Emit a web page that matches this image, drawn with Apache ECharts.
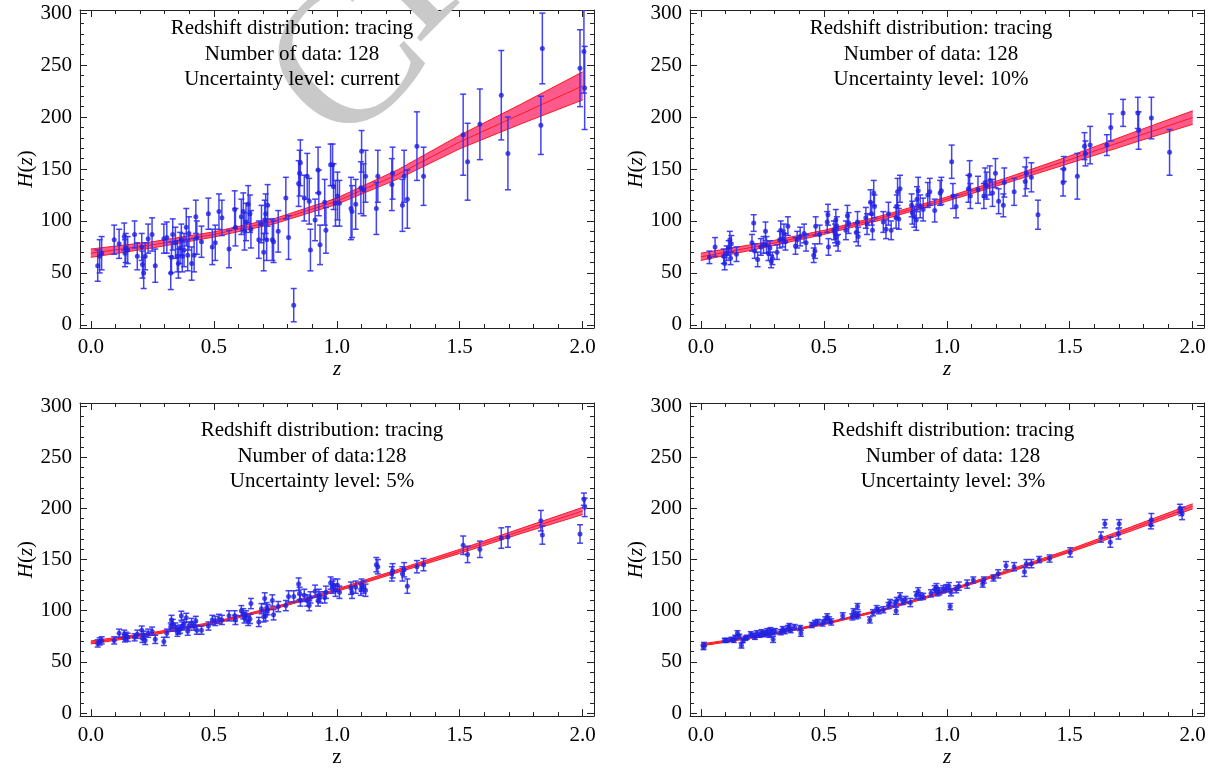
<!DOCTYPE html>
<html><head><meta charset="utf-8">
<script src="https://cdn.jsdelivr.net/npm/echarts@6/dist/echarts.min.js"></script>
<style>html,body{margin:0;padding:0;background:#fff}#c{width:1222px;height:769px}</style>
</head><body><div id="c"></div>
<script>
// ---------- tick labels ----------
const xMajorTicks = [0, 0.5, 1, 1.5, 2];
const xMinorTicks = [0.1,0.2,0.3,0.4,0.6,0.7,0.8,0.9,1.1,1.2,1.3,1.4,1.6,1.7,1.8,1.9];
const yMajorTicks = [0, 50, 100, 150, 200, 250, 300];
const yMinorTicks = [10,20,30,40,60,70,80,90,110,120,130,140,160,170,180,190,210,220,230,240,260,270,280,290];

// ---------- panel texts ----------
const panelTexts = [
  ['Redshift distribution: tracing', 'Number of data: 128', 'Uncertainty level: current'],
  ['Redshift distribution: tracing', 'Number of data: 128', 'Uncertainty level: 10%'],
  ['Redshift distribution: tracing', 'Number of data:128', 'Uncertainty level: 5%'],
  ['Redshift distribution: tracing', 'Number of data: 128', 'Uncertainty level: 3%']
];

// ---------- reconstructed band (z nodes) ----------
const bandZ = [0, 0.25, 0.5, 0.75, 1.0, 1.25, 1.5, 1.75, 2.0];
const bandTL_lo  = [65, 74, 84.5, 97.5, 116, 140.5, 169.5, 193.5, 216.5];
const bandTL_mid = [69, 77, 87, 100, 119, 145, 176, 203, 230];
const bandTL_hi  = [73, 80, 89.5, 102.5, 122, 149.5, 182.5, 212.5, 243.5];
const bandTR_lo  = [62, 74, 87, 102, 119, 137, 155.5, 174.5, 193];
const bandTR_mid = [65.5, 76.5, 89, 104, 121, 139.5, 159, 179.5, 199.5];
const bandTR_hi  = [69, 79, 91, 106, 123, 142, 162.5, 184.5, 206];
const bandBL_lo  = [67.5, 76.3, 87, 102, 118.8, 137.5, 156, 175.5, 194];
const bandBL_mid = [69, 77.5, 88, 103, 120, 139, 158, 178, 197.5];
const bandBL_hi  = [70.5, 78.7, 89, 104, 121.2, 140.5, 160, 180.5, 201];
const bandBR_lo  = [65.5, 74.7, 86.2, 100.7, 118, 137.3, 157, 178, 199.5];
const bandBR_mid = [66.5, 75.5, 87, 101.5, 119, 138.5, 158.5, 180, 202];
const bandBR_hi  = [67.5, 76.3, 87.8, 102.3, 120, 139.7, 160, 182, 204.5];

// ---------- data: top-left (current) & bottom-left (5%) share redshifts ----------
const zTrace = [.028,.036,.044,.095,.115,.136,.139,.142,.150,.178,
  .189,.207,.210,.215,.221,.233,.249,.262,.297,.309,
  .325,.328,.333,.344,.352,.356,.363,.368,.372,.379,
  .388,.394,.399,.410,.420,.427,.431,.450,.478,.494,
  .506,.521,.533,.562,.585,.588,.612,.620,.625,.631,
  .640,.647,.651,.683,.694,.703,.707,.711,.715,.719,
  .738,.743,.762,.793,.804,.825,.845,.849,.852,.868,
  .880,.888,.893,.912,.924,.927,.932,.951,.956,.975,
  .983,.987,.995,1.003,1.011,1.058,1.062,1.077,1.098,1.101,
  1.109,1.117,1.161,1.167,1.224,1.227,1.267,1.274,1.287,1.326,
  1.353,1.514,1.532,1.582,1.669,1.696,1.830,1.836,1.989,2.005,2.008];
const hTL = [57,66,69,82,78,85,69,74,72,87,
  66,75,58,50,66,83,87,57,83,84,
  50,65,87,79,66,59,74,82,66,72,
  94,67,88,59,67,104,84,80,107,75,
  79,109,103,73,111,94,104,109,90,99,
  116,107,92,82,97,70,101,107,82,115,
  82,80,90,122,84,19,136,146,156,122,
  143,119,72,101,149,127,77,118,91,154,
  154,133,117,124,117,112,109,116,132,167,
  130,143,112,143,135,146,115,143,121,172,
  143,183,157,193,221,165,192,266,247,263,228];
const eTL = [15,16,16,14,14,13,13,14,13,13,
  13,13,13,15,13,14,16,16,14,15,
  16,15,15,15,15,14,15,15,15,16,
  18,15,16,16,16,16,16,15,15,17,
  17,17,17,18,18,18,17,18,18,18,
  18,18,18,18,18,18,19,19,20,20,
  20,20,20,20,21,16,22,22,22,22,
  22,22,20,20,22,22,19,22,22,20,
  20,22,22,23,22,30,25,24,25,20,
  25,25,25,25,25,25,25,25,28,33,
  28,39,37,34,43,35,28,34,37,40,40];
const hBL = [68,70,71,71,78,77,73,75,74,74,
  77,81,73,76,71,78,80,72,70,78,
  84,91,87,84,79,81,82,95,85,87,
  93,80,85,88,85,90,81,81,85,91,
  90,92,91,95,95,91,100,97,93,95,
  90,92,107,89,102,94,112,95,103,101,
  110,96,104,105,114,114,126,117,110,115,
  110,105,113,119,110,115,113,113,118,127,
  123,125,120,125,118,122,118,123,121,125,
  123,120,145,143,136,139,136,140,124,143,
  145,164,155,160,171,172,188,174,175,209,201];
const eBL = [3.5,3.5,3.5,3.5,4,4,3.5,4,4,3.5,
  4,4,4,4,4,4,4,4,4,4,
  4,4.5,4.5,4,4,4,4,4.5,4,4.5,
  4.5,4,4,4.5,4,4.5,4,4,4,4.5,
  4.5,4.5,4.5,5,5,4.5,5,5,5,5,
  4.5,4.5,5,4.5,5,5,5.5,5,5,5,
  5.5,5,5,5,5.5,5.5,6,6,5.5,6,
  5.5,5,5.5,6,5.5,6,5.5,5.5,6,6,
  6,6,6,6,6,6,6,6,6,6,
  6,6,7,7,7,7,7,7,7,6,
  6,9,8,8,10,10,10,9,9,6,9];

// ---------- data: top-right (10%) ----------
const zTR = [.035,.058,.093,.097,.105,.113,.118,.121,.124,.145,
  .208,.215,.219,.231,.244,.255,.263,.267,.275,.281,
  .286,.291,.310,.321,.325,.333,.338,.344,.354,.385,
  .392,.404,.420,.428,.459,.464,.467,.483,.514,.517,
  .519,.541,.546,.549,.550,.553,.558,.590,.596,.601,
  .632,.637,.640,.671,.676,.690,.695,.698,.703,.706,
  .742,.753,.763,.774,.794,.797,.800,.805,.810,.857,
  .860,.868,.876,.879,.884,.892,.904,.923,.931,.951,
  .973,.978,1.020,1.025,1.038,1.088,1.093,1.096,1.127,1.151,
  1.156,1.162,1.175,1.186,1.198,1.211,1.230,1.234,1.274,1.319,
  1.324,1.344,1.371,1.473,1.476,1.531,1.560,1.564,1.583,1.651,
  1.667,1.717,1.777,1.780,1.832,1.906];
const hTR = [65,75,66,59,69,74,82,64,78,68,
  79,98,71,63,75,77,90,77,69,74,
  61,64,70,82,91,83,88,80,95,76,
  82,85,88,79,67,71,95,87,99,106,
  75,91,88,101,84,95,79,91,105,98,
  89,99,85,103,97,118,107,91,127,114,
  99,92,107,91,103,114,128,102,131,115,
  108,104,101,121,129,114,111,125,128,110,
  127,129,157,124,114,131,144,124,130,124,
  137,134,139,127,146,119,115,137,128,138,
  146,142,106,137,150,143,172,165,173,173,
  190,204,204,187,199,166];
const eTR = [6,9,7,6,7,7,8,6,8,7,
  8,8,7,7,8,8,9,8,7,7,
  6,6,7,8,9,8,9,8,9,8,
  8,9,9,8,7,7,9,9,10,10,
  8,9,9,10,8,9,8,9,10,10,
  9,10,9,10,10,12,11,9,12,11,
  10,9,11,9,10,11,13,10,13,11,
  11,10,10,12,13,11,11,12,13,11,
  12,13,16,12,11,13,14,12,13,12,
  14,13,14,13,14,12,11,14,13,14,
  15,14,14,13,12,22,13,12,18,10,
  13,13,15,18,20,22];

// ---------- data: bottom-right (3%) ----------
const zBR = [.011,.013,.097,.105,.124,.134,.140,.149,.156,.165,
  .171,.181,.187,.203,.212,.220,.228,.239,.247,.255,
  .263,.270,.278,.283,.291,.294,.302,.325,.333,.341,
  .354,.360,.365,.381,.404,.407,.451,.464,.475,.495,
  .506,.514,.522,.530,.577,.616,.621,.632,.637,.640,
  .687,.700,.715,.723,.742,.763,.769,.789,.794,.797,
  .810,.821,.832,.852,.876,.884,.892,.904,.936,.951,
  .958,.962,.970,.986,.998,1.009,1.014,1.017,1.038,1.049,
  1.083,1.108,1.146,1.151,1.190,1.209,1.241,1.274,1.316,1.324,
  1.344,1.376,1.418,1.502,1.627,1.643,1.665,1.698,1.701,1.830,
  1.832,1.948,1.953,1.957];
const hBR = [64,67,71,71,72,71,74,78,75,66,
  71,73,74,77,76,74,78,76,79,77,
  78,80,76,81,79,72,80,79,82,80,
  83,85,81,84,83,78,86,88,89,88,
  91,94,91,89,95,94,99,95,104,96,
  91,98,102,100,101,105,108,107,100,110,
  114,109,111,108,115,119,114,114,117,121,
  123,118,119,121,122,124,104,118,121,124,
  126,130,126,130,132,136,144,143,138,146,
  146,150,151,157,172,185,167,175,185,184,
  189,200,197,195];
const eBR = [2,2,2,2,2,2,2,2.5,2,2.5,
  2,2,2,2.5,2,2,2.5,2,2.5,2.5,
  2.5,2.5,2,2.5,2.5,3,2.5,2.5,2.5,2.5,
  2.5,2.5,2.5,2.5,2.5,3,2.5,2.5,2.5,3,
  3,3,3,3,3,3,3,3,3,3,
  3,3,3,3,3,3,3,3,3.5,3,
  3.5,3,3,4,3.5,3.5,3.5,3,3.5,3.5,
  3.5,3.5,3.5,3.5,3.5,3.5,3,3.5,3.5,4,
  4,3,3,3,3,4,4,4,4.5,4,
  4,3,3.5,4.5,5,4,5,5,4,4,
  6,4,4,6];

// ---------- build ----------
const FONT = 'Liberation Serif';
const XMIN = -0.044, XMAX = 2.046, YMIN = -3, YMAX = 303;
const gridsPos = [
  {left: 80, top: 10}, {left: 690, top: 10},
  {left: 80, top: 403}, {left: 690, top: 403}
];
const panels = [
  {z: zTrace, h: hTL, e: eTL, lo: bandTL_lo, mid: bandTL_mid, hi: bandTL_hi, italicZ: true},
  {z: zTR, h: hTR, e: eTR, lo: bandTR_lo, mid: bandTR_mid, hi: bandTR_hi, italicZ: true},
  {z: zTrace, h: hBL, e: eBL, lo: bandBL_lo, mid: bandBL_mid, hi: bandBL_hi, italicZ: false},
  {z: zBR, h: hBR, e: eBR, lo: bandBR_lo, mid: bandBR_mid, hi: bandBR_hi, italicZ: true}
];
const AXC = '#222';
const RED = '#ff1a1a';
const grid = [], xAxis = [], yAxis = [], series = [], graphic = [];
const txt = {fontFamily: FONT, fontSize: 21, color: '#000'};

panels.forEach((p, gi) => {
  grid.push({left: gridsPos[gi].left, top: gridsPos[gi].top, width: 514, height: 318, show: false});
  const mkX = (pos, major, labels) => ({
    type: 'value', gridIndex: gi, position: pos, min: XMIN, max: XMAX,
    axisLine: {show: major, onZero: false, lineStyle: {color: AXC, width: 1}},
    axisTick: {show: true, inside: true, length: major ? 7 : 4, customValues: major ? xMajorTicks : xMinorTicks, lineStyle: {color: AXC, width: 1}},
    axisLabel: Object.assign({show: labels, customValues: xMajorTicks, margin: 9, formatter: v => v.toFixed(1)}, txt),
    splitLine: {show: false},
    name: labels ? 'z' : '', nameLocation: 'middle', nameGap: 27,
    nameTextStyle: Object.assign({fontStyle: p.italicZ ? 'italic' : 'normal'}, txt)
  });
  const mkY = (pos, major, labels) => ({
    type: 'value', gridIndex: gi, position: pos, min: YMIN, max: YMAX,
    axisLine: {show: major, onZero: false, lineStyle: {color: AXC, width: 1}},
    axisTick: {show: true, inside: true, length: major ? 7 : 4, customValues: major ? yMajorTicks : yMinorTicks, lineStyle: {color: AXC, width: 1}},
    axisLabel: Object.assign({show: labels, customValues: yMajorTicks, margin: 8}, txt),
    splitLine: {show: false},
    name: labels ? '{i|H}({i|z})' : '', nameLocation: 'middle', nameGap: 42,
    nameTextStyle: Object.assign({rich: {i: Object.assign({fontStyle: 'italic'}, txt)}}, txt)
  });
  const xb = xAxis.length;
  xAxis.push(mkX('bottom', true, true), mkX('bottom', false, false), mkX('top', true, false), mkX('top', false, false));
  const yb = yAxis.length;
  yAxis.push(mkY('left', true, true), mkY('left', false, false), mkY('right', true, false), mkY('right', false, false));

  // band fill (polygon through the read band nodes)
  const bandRows = bandZ.map((z, i) => [z, p.lo[i], p.mid[i], p.hi[i]]);
  series.push({
    type: 'custom', xAxisIndex: xb, yAxisIndex: yb, data: bandRows, clip: true, animation: false, silent: true, z: 2,
    encode: {x: 0, y: [1, 3]},
    renderItem: (params, api) => {
      if (params.dataIndex !== 0) return null;
      const up = bandRows.map(r => api.coord([r[0], r[3]]));
      const dn = bandRows.map(r => api.coord([r[0], r[1]])).reverse();
      return {type: 'polygon', shape: {points: up.concat(dn)}, style: {fill: '#ff5a8c'}};
    }
  });
  const lineCommon = {type: 'line', xAxisIndex: xb, yAxisIndex: yb, smooth: false, symbol: 'none', silent: true, animation: false, z: 3};
  series.push(Object.assign({}, lineCommon, {data: bandRows.map(r => [r[0], r[1]]), lineStyle: {color: RED, width: 1}}));
  series.push(Object.assign({}, lineCommon, {data: bandRows.map(r => [r[0], r[3]]), lineStyle: {color: RED, width: 1}}));
  series.push(Object.assign({}, lineCommon, {data: bandRows.map(r => [r[0], r[2]]), lineStyle: {color: RED, width: 1}}));

  const pts = p.z.map((z, i) => [z, p.h[i], p.e[i]]);
  series.push({
    type: 'custom', xAxisIndex: xb, yAxisIndex: yb, data: pts, clip: true, animation: false, silent: true, z: 4,
    encode: {x: 0, y: 1},
    renderItem: (params, api) => {
      const x = api.value(0), y = api.value(1), e = api.value(2);
      const t = api.coord([x, y + e]), b = api.coord([x, y - e]);
      const st = {stroke: '#3030f0', lineWidth: 1.5, opacity: 0.9};
      return {type: 'group', children: [
        {type: 'line', shape: {x1: t[0], y1: t[1], x2: b[0], y2: b[1]}, style: st},
        {type: 'line', shape: {x1: t[0] - 3, y1: t[1], x2: t[0] + 3, y2: t[1]}, style: st},
        {type: 'line', shape: {x1: b[0] - 3, y1: b[1], x2: b[0] + 3, y2: b[1]}, style: st}
      ]};
    }
  });
  series.push({type: 'scatter', xAxisIndex: xb, yAxisIndex: yb, data: pts.map(d => [d[0], d[1]]),
    symbol: 'circle', symbolSize: 5, itemStyle: {color: '#2020e0'}, z: 5, silent: true, animation: false});

  const cx = [292, 931, 322, 953][gi];
  const ys = gi < 2 ? [28, 54, 79] : [430, 456, 481];
  panelTexts[gi].forEach((t, k) => {
    graphic.push({type: 'text', x: cx, y: ys[k], z: 10,
      style: {text: t, fontFamily: FONT, fontSize: 21, fill: '#000', textAlign: 'center', textVerticalAlign: 'middle'}});
  });
});

// watermark
graphic.push({type: 'text', x: 352, y: 68, rotation: Math.PI / 4, z: 1,
  style: {text: 'C', fontFamily: FONT, fontSize: 200, fill: '#c9c9c9', textAlign: 'center', textVerticalAlign: 'middle'}});
graphic.push({type: 'text', x: 418, y: -30, rotation: Math.PI / 4, z: 1,
  style: {text: 'P', fontFamily: FONT, fontSize: 200, fill: '#c9c9c9', textAlign: 'center', textVerticalAlign: 'middle'}});

const chart = echarts.init(document.getElementById('c'), null, {renderer: 'canvas'});
chart.setOption({animation: false, backgroundColor: '#fff', grid, xAxis, yAxis, series, graphic});
</script></body></html>
